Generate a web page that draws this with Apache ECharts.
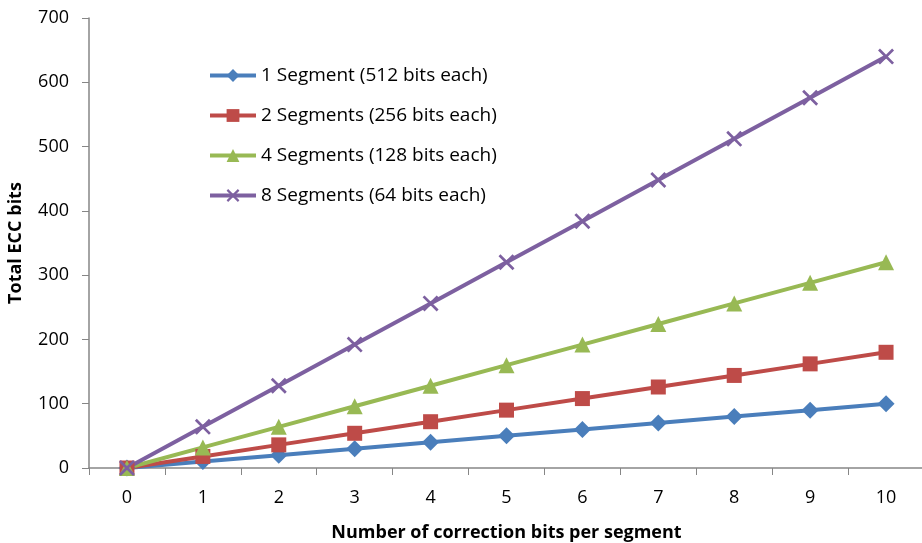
<!DOCTYPE html>
<html>
<head>
<meta charset="utf-8">
<script src="https://cdn.jsdelivr.net/npm/echarts@6/dist/echarts.min.js"></script>
<style>
  html, body { margin: 0; padding: 0; background: #fff; }
  #chart { width: 922px; height: 543px; }
</style>
</head>
<body>
<div id="chart"></div>
<script>
// Correction bits per segment (x categories)
const correctionBits = ['0', '1', '2', '3', '4', '5', '6', '7', '8', '9', '10'];

// Total ECC bits for each segmentation scheme
const oneSegment    = [0, 10, 20, 30, 40, 50, 60, 70, 80, 90, 100];
const twoSegments   = [0, 18, 36, 54, 72, 90, 108, 126, 144, 162, 180];
const fourSegments  = [0, 32, 64, 96, 128, 160, 192, 224, 256, 288, 320];
const eightSegments = [0, 64, 128, 192, 256, 320, 384, 448, 512, 576, 640];

const seriesNames = [
  '1 Segment (512 bits each)',
  '2 Segments (256 bits each)',
  '4 Segments (128 bits each)',
  '8 Segments (64 bits each)'
];

const FONT = 'Open Sans';
const crossSymbol = 'path://M0,1.2L1.2,0L10,8.8L8.8,10Z M8.8,0L10,1.2L1.2,10L0,8.8Z';

function lineSeries(name, data, color, symbol, size) {
  return {
    name: name,
    type: 'line',
    data: data,
    symbol: symbol,
    symbolSize: size,
    showAllSymbol: true,
    lineStyle: { color: color, width: 4 },
    itemStyle: { color: color },
    emphasis: { disabled: true },
    animation: false
  };
}

const chart = echarts.init(document.getElementById('chart'));
chart.setOption({
  backgroundColor: '#ffffff',
  textStyle: { fontFamily: FONT },
  grid: { left: 89, top: 18, width: 835, height: 450, containLabel: false, outerBoundsMode: 'none' },
  legend: {
    orient: 'vertical',
    left: 203,
    top: 61,
    itemWidth: 46,
    itemHeight: 16,
    itemGap: 21,
    lineStyle: { width: 4 },
    textStyle: { fontFamily: FONT, fontSize: 19, color: '#000' },
    data: seriesNames
  },
  xAxis: {
    type: 'category',
    data: correctionBits,
    boundaryGap: true,
    name: 'Number of correction bits per segment',
    nameLocation: 'middle',
    nameGap: 56,
    nameTextStyle: { fontFamily: FONT, fontSize: 18, fontWeight: 'bold', color: '#000' },
    axisLine: { lineStyle: { color: '#868686', width: 1.5 } },
    axisTick: { show: true, length: 7, lineStyle: { color: '#868686' } },
    axisLabel: { fontFamily: FONT, fontSize: 18, color: '#000', margin: 21 },
    splitLine: { show: false }
  },
  yAxis: {
    type: 'value',
    min: 0,
    max: 700,
    interval: 100,
    name: 'Total ECC bits',
    nameLocation: 'middle',
    nameRotate: 90,
    nameGap: 64,
    nameTextStyle: { fontFamily: FONT, fontSize: 18, fontWeight: 'bold', color: '#000' },
    axisLine: { show: true, lineStyle: { color: '#868686', width: 1.5 } },
    axisTick: { show: true, length: 7, lineStyle: { color: '#868686' } },
    axisLabel: { fontFamily: FONT, fontSize: 18, color: '#000', margin: 20 },
    splitLine: { show: false }
  },
  series: [
    lineSeries(seriesNames[0], oneSegment, '#4a7ebb', 'diamond', 17),
    lineSeries(seriesNames[1], twoSegments, '#be4b48', 'rect', 15),
    lineSeries(seriesNames[2], fourSegments, '#98b954', 'triangle', 16),
    lineSeries(seriesNames[3], eightSegments, '#7d60a0', crossSymbol, 16)
  ]
});
</script>
</body>
</html>
